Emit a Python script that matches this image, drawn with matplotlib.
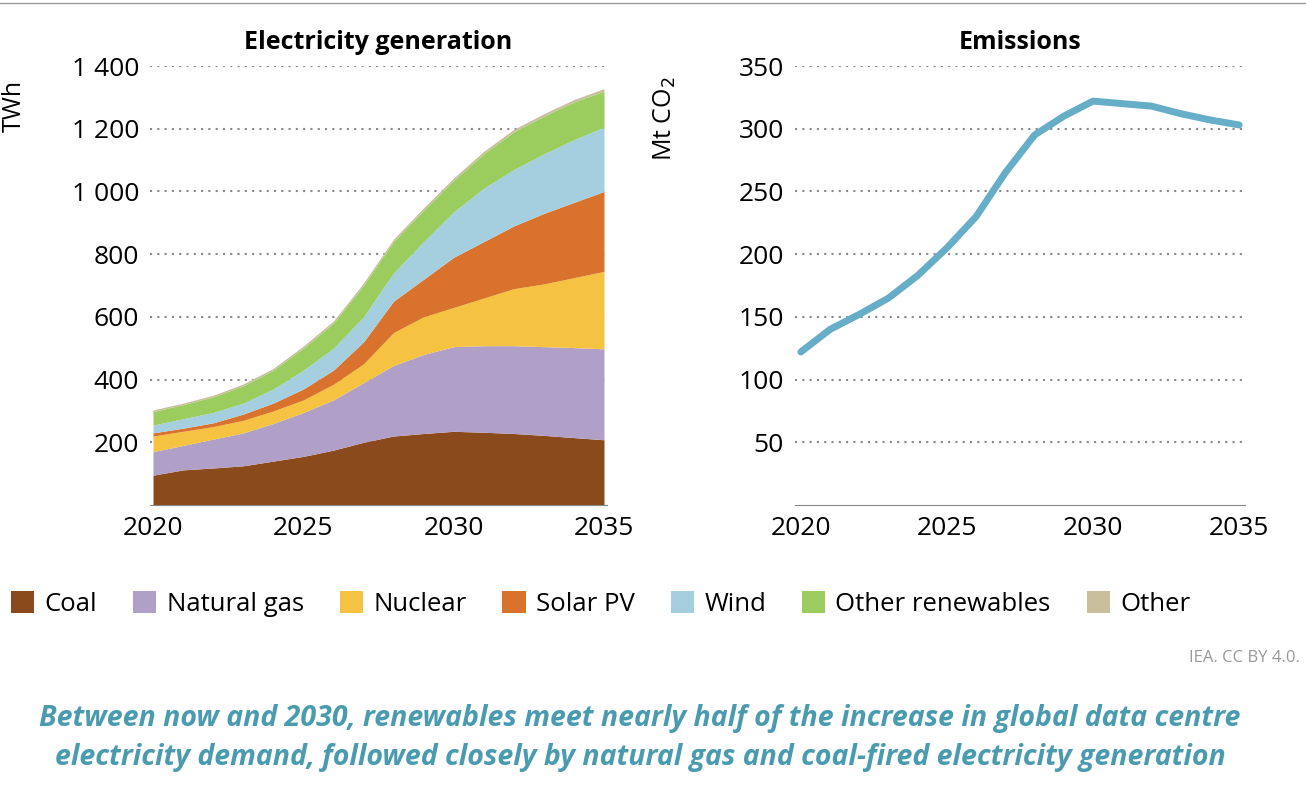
import numpy as np
import matplotlib
matplotlib.use("Agg")
import matplotlib.pyplot as plt

years = list(range(2020, 2036))
coal = [95, 112, 118, 125, 140, 155, 175, 200, 220, 228, 235, 232, 228, 222, 215, 208]
gas_top = [170, 190, 210, 230, 260, 295, 335, 390, 445, 480, 505, 508, 508, 505, 502, 498]
nuc_top = [220, 235, 250, 270, 300, 335, 385, 450, 550, 600, 630, 660, 690, 705, 725, 745]
sol_top = [230, 245, 262, 290, 325, 370, 430, 520, 650, 720, 790, 840, 890, 930, 965, 1000]
wind_top = [255, 275, 295, 325, 370, 430, 500, 600, 740, 840, 935, 1010, 1070, 1120, 1165, 1205]
oren_top = [298, 320, 345, 380, 430, 500, 580, 700, 840, 940, 1035, 1120, 1190, 1240, 1285, 1320]
other_top = [303, 325, 350, 386, 436, 507, 587, 708, 848, 948, 1043, 1128, 1198, 1248, 1293, 1328]
emissions = [122, 140, 152, 165, 183, 205, 230, 265, 295, 310, 322, 320, 318, 312, 307, 303]

tops = [coal, gas_top, nuc_top, sol_top, wind_top, oren_top, other_top]
names = ["Coal", "Natural gas", "Nuclear", "Solar PV", "Wind", "Other renewables", "Other"]
colors = ["#8b4a1c", "#b09fc7", "#f5c242", "#d9722c", "#a5cfdf", "#9acd5e", "#c9bf9d"]

plt.rcParams["font.family"] = ["Open Sans", "DejaVu Sans"]
fig = plt.figure(figsize=(13.06, 7.92), dpi=100)
fig.add_artist(plt.Line2D([0, 1], [0.996, 0.996], color="#999999", lw=1))

ax1 = fig.add_axes([150/1306, 1-505/792, 457/1306, 439/792])
ax2 = fig.add_axes([795/1306, 1-505/792, 450/1306, 439/792])

prev = np.zeros(len(years))
for t, n, c in zip(tops, names, colors):
    ax1.fill_between(years, prev, t, color=c, lw=0, label=n)
    prev = np.array(t)
ax1.set_ylim(0, 1400)
ax1.set_yticks(range(200, 1401, 200))
ax1.set_yticklabels([f"{v:,}".replace(",", " ") for v in range(200, 1401, 200)])
ax1.set_ylabel("TWh", fontsize=18)
ax1.yaxis.set_label_coords(-0.27, 0.91)
ax1.set_title("Electricity generation", fontsize=18, fontweight="bold", pad=12)

ax2.plot(years, emissions, color="#66aec8", lw=5, solid_capstyle="round")
ax2.set_ylim(0, 350)
ax2.set_yticks(range(50, 351, 50))
ax2.set_ylabel("Mt CO$_2$", fontsize=18)
ax2.yaxis.set_label_coords(-0.26, 0.88)
ax2.set_title("Emissions", fontsize=18, fontweight="bold", pad=12)

for ax in (ax1, ax2):
    ax.set_xlim(2019.8, 2035.2) if ax is ax2 else ax.set_xlim(2019.9, 2035.1)
    ax.set_xticks([2020, 2025, 2030, 2035])
    for s in ("top", "right", "left"):
        ax.spines[s].set_visible(False)
    ax.spines["bottom"].set_color("#888888")
    ax.tick_params(length=0, labelsize=19, pad=8)
    ax.grid(axis="y", ls=(0, (1, 2.5)), color="#888888", lw=1.5)
    ax.set_axisbelow(True)

h, l = ax1.get_legend_handles_labels()
fig.legend(h, l, loc="center", bbox_to_anchor=(0.46, 1-604/792), ncol=7, frameon=False,
           fontsize=18.5, handlelength=0.9, handleheight=0.9, columnspacing=1.4, handletextpad=0.4)
fig.text(0.995, 1-658/792, "IEA. CC BY 4.0.", ha="right", va="center", fontsize=12, color="#999999")
fig.text(0.49, 1-738/792, "Between now and 2030, renewables meet nearly half of the increase in global data centre\n"
         "electricity demand, followed closely by natural gas and coal-fired electricity generation",
         ha="center", va="center", fontsize=20.5, color="#4a9bb0", style="italic", fontweight="bold",
         linespacing=1.45)
fig.savefig("out.png")
